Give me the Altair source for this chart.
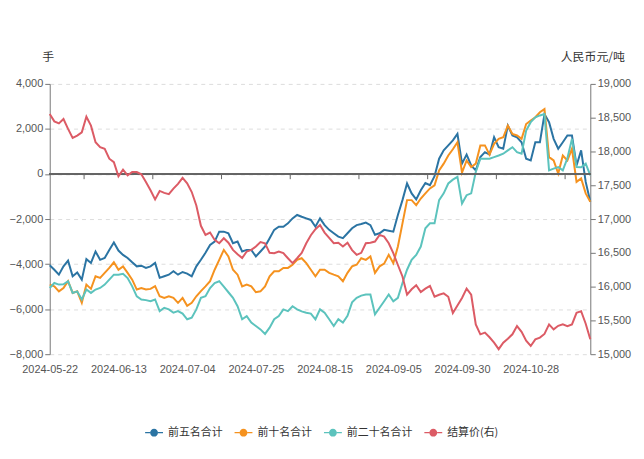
import altair as alt
import pandas as pd

# ---------------- data ----------------
n_points = 119
holidays = ['2024-06-10', '2024-09-16', '2024-09-17', '2024-10-01', '2024-10-02',
            '2024-10-03', '2024-10-04', '2024-10-07']
dates = [d.strftime('%Y-%m-%d') for d in pd.bdate_range('2024-05-22', '2024-12-31')
         if d.strftime('%Y-%m-%d') not in holidays][:n_points]

series_names = ['前五名合计', '前十名合计', '前二十名合计', '结算价(右)']
series_colors = ['#2b74a3', '#f5921f', '#5cc3bd', '#dc5b65']

top5 = [-4050, -4250, -4470, -4100, -3850, -4540, -4370, -4690, -3780, -3950,
        -3440, -3810, -3730, -3370, -3040, -3400, -3590, -3730, -3920, -4100,
        -4070, -4170, -4100, -3950, -4610, -4540, -4470, -4320, -4470, -4350,
        -4420, -4540, -4100, -3810, -3500, -3150, -3000, -2560, -2560, -2630,
        -3070, -3000, -3440, -3370, -3370, -3660, -3440, -3220, -2850, -2480,
        -2340, -2340, -2190, -1970, -1820, -1900, -1970, -2040, -2340, -1970,
        -2270, -2480, -2630, -2780, -2850, -2630, -2410, -2270, -2220, -2160,
        -2270, -2700, -2630, -2480, -2520, -2560, -1820, -1160, -420, -860,
        -1130, -720, -400, -500, -100, 680, 1050, 1270, 1490, 1780,
        460, 860, 380, 160, 750, 970, 860, 1630, 1190, 1120,
        2150, 1710, 1630, 1410, 680, 600, 1410, 1410, 2660, 2300,
        1560, 1120, 1410, 1710, 1710, 380, 1050, -350, -1230]

top10 = [-4910, -4990, -5210, -5060, -4760, -5280, -5210, -5720, -4910, -5100,
         -4540, -4610, -4390, -4170, -3920, -4250, -4100, -4390, -4690, -5130,
         -5060, -5130, -5100, -4980, -5430, -5500, -5430, -5500, -5720, -5500,
         -5850, -5720, -5430, -5200, -4990, -4760, -4250, -3810, -3370, -3660,
         -4250, -4470, -4990, -4910, -4990, -5250, -5210, -4990, -4540, -4320,
         -4320, -4170, -4170, -4030, -3810, -3740, -3960, -4250, -4540, -4250,
         -4250, -4390, -4470, -4540, -4760, -4390, -4100, -4030, -3740, -3810,
         -3660, -4390, -4100, -3980, -3590, -3960, -3220, -2190, -1160, -1160,
         -1380, -1090, -860, -640, -500, 160, 460, 820, 1100, 1410,
         60, 600, 310, 460, 1270, 1270, 860, 1340, 1560, 1630,
         2150, 1780, 1710, 1560, 2220, 2370, 2520, 2740, 2880, 750,
         600, 20, 820, 600, 1120, -350, -200, -860, -1230]

top20 = [-5060, -4840, -4910, -4900, -4760, -5280, -5210, -5570, -5130, -5280,
         -5130, -5060, -4910, -4690, -4470, -4470, -4430, -4620, -4990, -5430,
         -5570, -5600, -5650, -5570, -6090, -5940, -6010, -6160, -6090, -6200,
         -6450, -6380, -6010, -5500, -5430, -5060, -4840, -4760, -5000, -5250,
         -5500, -5870, -6450, -6310, -6600, -6750, -6900, -7100, -6820, -6450,
         -6310, -6010, -6090, -5870, -6010, -6100, -6160, -6200, -6450, -6010,
         -6160, -6450, -6750, -6450, -6600, -6300, -5700, -5500, -5400, -5350,
         -5350, -6230, -5940, -5650, -5350, -5650, -5500, -4840, -4250, -3810,
         -3590, -3220, -2410, -2190, -2190, -1160, -860, -420, -250, -130,
         -1310, -940, -860, 90, 680, 680, 680, 750, 820, 900,
         1050, 1190, 970, 900, 1930, 2300, 2520, 2600, 2660, 160,
         240, 310, 160, 700, 1560, 310, 300, 460, -60]

settle = [18554, 18446, 18416, 18481, 18334, 18201, 18235, 18284, 18515, 18382,
          18137, 18063, 18040, 17893, 17843, 17632, 17731, 17647, 17696, 17696,
          17662, 17549, 17426, 17290, 17416, 17387, 17368, 17451, 17520, 17610,
          17530, 17400, 17200, 16900, 16765, 16800, 16691, 16642, 16716, 16650,
          16544, 16480, 16422, 16520, 16544, 16593, 16660, 16640, 16500, 16495,
          16520, 16495, 16420, 16348, 16420, 16500, 16642, 16760, 16850, 16912,
          16800, 16720, 16642, 16650, 16593, 16650, 16540, 16471, 16500, 16642,
          16650, 16667, 16765, 16740, 16642, 16495, 16320, 16150, 15880, 15960,
          16020, 15920, 15970, 16010, 15850, 15880, 15900, 15850, 15610, 15720,
          15833, 15970, 15880, 15441, 15294, 15319, 15250, 15172, 15074, 15170,
          15230, 15294, 15416, 15330, 15200, 15122, 15220, 15245, 15300, 15441,
          15368, 15420, 15441, 15416, 15441, 15613, 15637, 15450, 15220]

left_ticks = [-8000, -6000, -4000, -2000, 0, 2000, 4000]
right_ticks = [15000, 15500, 16000, 16500, 17000, 17500, 18000, 18500, 19000]
label_step = 15

# ---------------- tables ----------------
rows = []
for name, vals in zip(series_names[:3], [top5, top10, top20]):
    for i, v in enumerate(vals):
        rows.append({'idx': i, 'date': dates[i], 'series': name, 'value': v})
df_left = pd.DataFrame(rows)
df_right = pd.DataFrame({'idx': list(range(len(settle))), 'date': dates[:len(settle)],
                         'series': series_names[3], 'price': settle})

label_idx = list(range(0, n_points, label_step))[:8]
label_txt = [dates[i] for i in label_idx]
label_expr = "[" + ",".join("'%s'" % t for t in label_txt) + "][round(datum.value/%d)]" % label_step
tick_df = pd.DataFrame({'pos': [i + label_step / 2 for i in label_idx]})

FONT_NUM = 'Liberation Sans'
FONT_CJK = 'Noto Sans CJK SC'

xscale = alt.Scale(domain=[0, n_points - 1], nice=False, zero=False)
xaxis = alt.Axis(values=label_idx, labelExpr=label_expr, grid=False, ticks=False,
                 domain=False, labelFont=FONT_NUM, labelFontSize=11,
                 labelColor='#555', labelPadding=9, title=None,
                 labelOverlap=False, labelFlush=False)

color = alt.Color('series:N',
                  scale=alt.Scale(domain=series_names, range=series_colors),
                  legend=alt.Legend(
                      orient='none', legendX=96, legendY=342, direction='horizontal',
                      title=None,
                      symbolType='M-1,-0.07L-0.44,-0.07L-0.44,0.07L-1,0.07Z'
                                 'M0.44,-0.07L1,-0.07L1,0.07L0.44,0.07Z'
                                 'M0.44,0A0.44,0.44 0 1,1 -0.44,0A0.44,0.44 0 1,1 0.44,0Z',
                      symbolSize=324, symbolStrokeWidth=0,
                      labelFont=FONT_CJK, labelFontSize=11, labelColor='#333',
                      labelOffset=5, columnPadding=12))

yleft = alt.Y('value:Q', scale=alt.Scale(domain=[-8000, 4000], nice=False),
              axis=alt.Axis(values=left_ticks, format=',d', title='手', titleAngle=0,
                            titleX=-2, titleY=-28, titleAlign='center', titleBaseline='middle',
                            titleFont=FONT_CJK, titleFontSize=12, titleFontWeight='normal',
                            titleColor='#333', labelFont=FONT_NUM, labelFontSize=11,
                            labelColor='#555', tickColor='#777', tickSize=5,
                            domainColor='#777', gridColor='#dddddd', gridDash=[4, 4],
                            labelPadding=2))

legend_layer = alt.Chart(df_left).mark_circle(opacity=1).encode(
    x=alt.X('idx:Q', scale=xscale, axis=xaxis),
    y=yleft,
    color=color,
).transform_filter('false')

lines_left = alt.Chart(df_left).mark_line(strokeWidth=2).encode(
    x=alt.X('idx:Q', scale=xscale, axis=xaxis),
    y=yleft,
    color=color,
    order=alt.Order('idx:Q'),
)

zero_rule = alt.Chart(df_left).mark_rule(color='#666', strokeWidth=1).encode(
    y=alt.datum(0))

zero_ticks = alt.Chart(tick_df).mark_rule(color='#666', strokeWidth=1).encode(
    x=alt.X('pos:Q', scale=xscale, axis=xaxis),
    y=alt.datum(0),
    y2=alt.datum(-230))

left = alt.layer(legend_layer, lines_left, zero_rule, zero_ticks)

right = alt.Chart(df_right).mark_line(strokeWidth=2).encode(
    x=alt.X('idx:Q', scale=xscale, axis=xaxis),
    y=alt.Y('price:Q', scale=alt.Scale(domain=[15000, 19000], nice=False, zero=False),
            axis=alt.Axis(orient='right', values=right_ticks, format=',d',
                          title='人民币元/吨', titleAngle=0, titleX=2, titleY=-28,
                          titleAlign='center', titleBaseline='middle',
                          titleFont=FONT_CJK, titleFontSize=12, titleFontWeight='normal',
                          titleColor='#333', labelFont=FONT_NUM, labelFontSize=11,
                          labelColor='#555', tickColor='#777', tickSize=5,
                          domainColor='#777', grid=False, labelPadding=2)),
    color=color,
    order=alt.Order('idx:Q'),
)

chart = alt.layer(left, right).resolve_scale(y='independent').properties(
    width=544, height=272,
    autosize=alt.AutoSizeParams(type='none'),
    padding={'left': 42, 'top': 75, 'right': 46, 'bottom': 90},
    background='white',
).configure_view(stroke=None)

chart.save('out.html', embed_options={'renderer': 'svg', 'actions': False})
